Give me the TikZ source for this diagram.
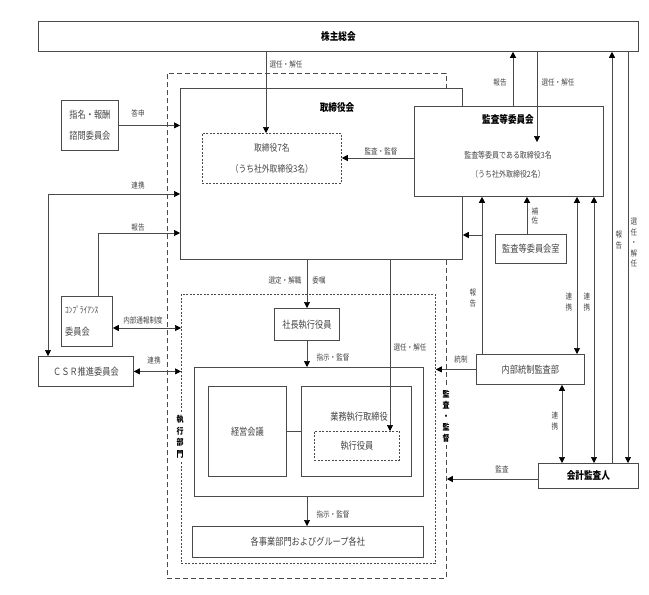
\documentclass[tikz,border=0pt]{standalone}
\usepackage{fontspec}
\newfontfamily\jp[FakeStretch=0.82]{Noto Sans CJK JP}
\usetikzlibrary{arrows.meta}
\definecolor{lncol}{HTML}{4A4A4A}
\definecolor{txcol}{HTML}{454545}
\tikzset{
  box/.style={draw=lncol, line width=0.8pt, fill=white, inner sep=0pt, anchor=north west,
    font=\jp\fontsize{10}{12}\selectfont, text=txcol, align=center},
  dotbox/.style={box, dash pattern=on 2pt off 1.5pt},
  lbl/.style={font=\jp\fontsize{8}{9}\selectfont, text=txcol, inner sep=1pt},
  vlbl/.style={lbl, align=center, font=\jp\fontsize{8}{11.5}\selectfont},
  btitle/.style={font=\jp\bfseries\fontsize{10.5}{12}\selectfont, text=black, inner sep=1pt},
  conn/.style={draw=lncol, line width=0.7pt},
  arr/.style={conn, -{Triangle[length=6pt,width=6pt,color=black]}},
  arrr/.style={conn, {Triangle[length=6pt,width=6pt,color=black]}-{Triangle[length=6pt,width=6pt,color=black]}},
}
\begin{document}
\begin{tikzpicture}[x=1pt,y=-1pt]
\useasboundingbox (0,0) rectangle (649,595);
% outer dashed frame
\node[box, fill=none, dash pattern=on 5pt off 3pt, minimum width=279pt, minimum height=505pt] (outer) at (167,73) {};
% shareholders
\node[box, minimum width=600pt, minimum height=30pt, font=\jp\bfseries\fontsize{10.5}{12}\selectfont, text=black] (gm) at (38,21) {株主総会};
% board
\node[box, minimum width=282pt, minimum height=171pt] (bod) at (180,88) {};
\node[btitle] (bodt) at (337,108) {取締役会};
\node[dotbox, minimum width=139pt, minimum height=50pt, font=\jp\fontsize{9.5}{21}\selectfont] (dir7) at (202,133) {取締役7名\\（うち社外取締役3名）};
% audit committee
\node[box, minimum width=189pt, minimum height=90pt] (ac) at (414,106) {};
\node[btitle] (act) at (508,119) {監査等委員会};
\node[lbl, font=\jp\fontsize{8.5}{10}\selectfont] (act1) at (508,155) {監査等委員である取締役3名};
\node[lbl, font=\jp\fontsize{8.5}{10}\selectfont] (act2) at (508,174) {（うち社外取締役2名）};
% left committees
\node[box, minimum width=57pt, minimum height=50pt, font=\jp\fontsize{10}{21}\selectfont] (nom) at (61,100) {指名・報酬\\諮問委員会};
\node[box, minimum width=51pt, minimum height=50pt] (comp) at (61,296) {};
\node[lbl, anchor=west, font=\jp\fontsize{9}{10}\selectfont] (compt1) at (64,310) {ｺﾝﾌﾟﾗｲｱﾝｽ};
\node[lbl, anchor=west, font=\jp\fontsize{10}{10}\selectfont] (compt2) at (64,332) {委員会};
\node[box, minimum width=95pt, minimum height=30pt] (csr) at (38,356) {ＣＳＲ推進委員会};
% execution dept
\node[box, fill=none, dash pattern=on 2pt off 1.5pt, minimum width=254pt, minimum height=269pt] (ed) at (181,294) {};
\node[box, minimum width=65pt, minimum height=32pt] (pres) at (274,308) {社長執行役員};
\node[box, minimum width=229pt, minimum height=129pt] (exec) at (194,367) {};
\node[box, minimum width=78pt, minimum height=90pt] (mm) at (208,386) {経営会議};
\node[box, minimum width=110pt, minimum height=90pt] (bed) at (301,386) {};
\node[lbl, font=\jp\fontsize{10}{12}\selectfont] (bedt) at (359,417) {業務執行取締役};
\node[dotbox, minimum width=85pt, minimum height=29pt] (eo) at (314,431) {執行役員};
\node[box, minimum width=231pt, minimum height=31pt] (bu) at (192,526) {各事業部門およびグループ各社};
% right side
\node[box, minimum width=71pt, minimum height=29pt] (acr) at (495,234) {監査等委員会室};
\node[box, minimum width=108pt, minimum height=30pt] (ia) at (476,354) {内部統制監査部};
\node[box, minimum width=100pt, minimum height=25pt, font=\jp\bfseries\fontsize{10.5}{12}\selectfont, text=black] (ea) at (538,463) {会計監査人};
% vertical frame titles
\node[fill=white, inner sep=3pt, align=center, font=\jp\bfseries\fontsize{8.5}{11.5}\selectfont] (edt) at (180,437) {執\\行\\部\\門};
\node[fill=white, inner sep=3pt, align=center, font=\jp\bfseries\fontsize{8.5}{11}\selectfont] (outt) at (446,416) {監\\査\\・\\監\\督};
% helper coordinates
\coordinate (x266) at (266,0);
\coordinate (acIn) at (537,142);
\coordinate (x513) at (513,0);
\coordinate (y158) at (0,158);
\coordinate (c48) at (48,194);
\coordinate (c98) at (98,233);
\coordinate (y328) at (0,328);
\coordinate (x307) at (307,0);
\coordinate (x390) at (390,0);
\coordinate (br) at (482,235);
\coordinate (x527) at (527,0);
\coordinate (x577) at (577,0);
\coordinate (x594) at (594,0);
\coordinate (x612) at (612,0);
\coordinate (x628) at (628,0);
\coordinate (x562) at (562,0);
\coordinate (y479) at (0,479);
% connectors
\draw[arr] (gm.south -| x266) -- (dir7.north -| x266);
\draw[arr] (gm.south -| acIn) -- (acIn);
\draw[arr] (ac.north -| x513) -- (gm.south -| x513);
\draw[arr] (ac.west |- y158) -- (dir7.east |- y158);
\draw[arr] (nom.east) -- (nom.east -| bod.west);
\draw[arrr] (csr.north -| c48) |- (bod.west |- c48);
\draw[arr] (comp.north -| c98) |- (bod.west |- c98);
\draw[arrr] (comp.east |- y328) -- (ed.west |- y328);
\draw[arrr] (csr.east) -- (csr.east -| ed.west);
\draw[arr] (bod.south -| x307) -- (pres.north -| x307);
\draw[arr] (pres.south -| x307) -- (exec.north -| x307);
\draw[conn] (mm.east) -- (bed.west);
\draw[arr] (bod.south -| x390) -- (eo.north -| x390);
\draw[arr] (exec.south -| x307) -- (bu.north -| x307);
\draw[arr] (ia.north -| br) -- (ac.south -| br);
\draw[arr] (br) -- (bod.east |- br);
\draw[arr] (acr.north -| x527) -- (ac.south -| x527);
\draw[arrr] (ac.south -| x577) -- (ia.north -| x577);
\draw[arrr] (ac.south -| x594) -- (ea.north -| x594);
\draw[arr] (ea.north -| x612) -- (gm.south -| x612);
\draw[arr] (gm.south -| x628) -- (ea.north -| x628);
\draw[arr] (ia.west) -- (ia.west -| ed.east);
\draw[arrr] (ia.south -| x562) -- (ea.north -| x562);
\draw[arr] (ea.west |- y479) -- (outer.east |- y479);
% labels
\node[lbl] (l1) at (286,64) {選任・解任};
\node[lbl] (l2) at (558,82) {選任・解任};
\node[lbl] (l3) at (500,82) {報告};
\node[lbl] (l4) at (381,151) {監査・監督};
\node[lbl] (l5) at (138,113) {答申};
\node[lbl] (l6) at (138,185) {連携};
\node[lbl] (l7) at (138,227) {報告};
\node[lbl] (l8) at (143,320) {内部通報制度};
\node[lbl] (l9) at (154,360) {連携};
\node[lbl] (l10) at (285,280) {選定・解職};
\node[lbl] (l11) at (319,280) {委嘱};
\node[lbl] (l12) at (333,357) {指示・監督};
\node[lbl] (l13) at (333,514) {指示・監督};
\node[lbl] (l14) at (410,347) {選任・解任};
\node[lbl] (l15) at (461,359) {統制};
\node[lbl] (l16) at (502,469) {監査};
\node[vlbl] (v1) at (473,298) {報\\告};
\node[vlbl, font=\jp\fontsize{8}{9}\selectfont] (v2) at (535,216) {補\\佐};
\node[vlbl] (v3) at (569,302) {連\\携};
\node[vlbl] (v4) at (587,302) {連\\携};
\node[vlbl] (v5) at (619,240) {報\\告};
\node[vlbl, font=\jp\fontsize{8}{10.5}\selectfont] (v6) at (634,243) {選\\任\\・\\解\\任};
\node[vlbl] (v7) at (555,421) {連\\携};
\end{tikzpicture}
\end{document}
